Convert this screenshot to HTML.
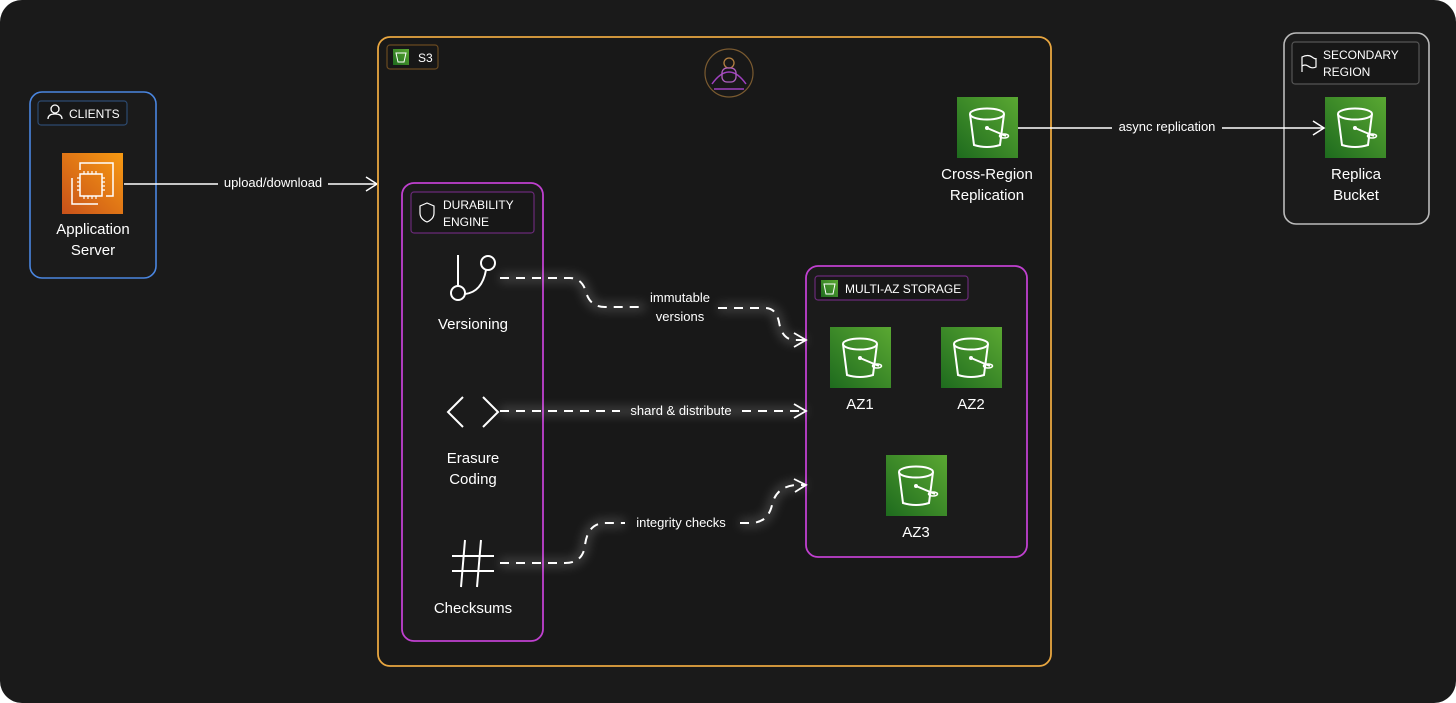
<!DOCTYPE html>
<html><head><meta charset="utf-8"><style>
html,body{margin:0;padding:0;background:#fff;}
body{width:1456px;height:703px;overflow:hidden;}
svg{display:block;}
text{font-family:"Liberation Sans",Arial,sans-serif;fill:#fff;}
</style></head><body>
<svg width="1456" height="703" viewBox="0 0 1456 703" xmlns="http://www.w3.org/2000/svg">
<defs>
<linearGradient id="g" x1="0" y1="1" x2="1" y2="0"><stop offset="0" stop-color="#1e6b1e"/><stop offset="1" stop-color="#5aa832"/></linearGradient>
<linearGradient id="o" x1="0" y1="1" x2="1" y2="0"><stop offset="0" stop-color="#c8511a"/><stop offset="1" stop-color="#f79a12"/></linearGradient>
<filter id="glow" x="-20%" y="-50%" width="140%" height="200%"><feGaussianBlur stdDeviation="5"/></filter>
<g id="bucket">
<path d="M-17,-13 L-13,18 Q0,22 13,18 L17,-13" fill="none" stroke="#fff" stroke-width="2"/>
<ellipse cx="0" cy="-13" rx="17" ry="5.5" fill="none" stroke="#fff" stroke-width="2"/>
<path d="M0,1 L19,9" stroke="#fff" stroke-width="2"/>
<ellipse cx="17" cy="9" rx="4.5" ry="2" fill="none" stroke="#fff" stroke-width="1.5"/>
<circle cx="0" cy="1" r="2" fill="#fff"/>
</g>
</defs>
<rect x="0" y="0" width="1456" height="703" rx="22" fill="#1a1a1a"/>

<!-- Clients -->
<rect x="30" y="92" width="126" height="186" rx="12" fill="#1b1b1b" stroke="#4a86e0" stroke-width="1.6"/>
<rect x="38" y="101" width="89" height="24" rx="3" fill="#171717" stroke="#2c4a70" stroke-width="1.2"/>
<circle cx="55" cy="109" r="4" fill="none" stroke="#fff" stroke-width="1.3"/>
<path d="M48,119 Q48,114 55,114 Q62,114 62,119" fill="none" stroke="#fff" stroke-width="1.3"/>
<text x="69" y="118" font-size="12">CLIENTS</text>
<rect x="62" y="153" width="61" height="61" fill="url(#o)"/>
<path d="M80,170 L80,163 L113,163 L113,196 L106,196" fill="none" stroke="#fff" stroke-width="1.5"/>
<path d="M72,178 L72,204 L98,204" fill="none" stroke="#fff" stroke-width="1.5"/>
<rect x="80" y="174" width="22" height="22" fill="none" stroke="#fff" stroke-width="1.5"/>
<path d="M84,171 v3 M88,171 v3 M92,171 v3 M96,171 v3 M84,196 v3 M88,196 v3 M92,196 v3 M96,196 v3 M77,178 h3 M77,182 h3 M77,186 h3 M77,190 h3 M102,178 h3 M102,182 h3 M102,186 h3 M102,190 h3" stroke="#fff" stroke-width="1.2"/>
<text x="93" y="234" font-size="15" text-anchor="middle">Application</text>
<text x="93" y="255" font-size="15" text-anchor="middle">Server</text>

<!-- upload arrow -->
<line x1="124" y1="184" x2="377" y2="184" stroke="#fff" stroke-width="1.5"/>
<path d="M366,177 L377,184 L366,191" fill="none" stroke="#fff" stroke-width="1.5"/>
<rect x="218" y="175" width="110" height="16" fill="#1a1a1a"/>
<text x="273" y="187" font-size="13" text-anchor="middle">upload/download</text>

<!-- S3 -->
<rect x="378" y="37" width="673" height="629" rx="12" fill="#181818" stroke="#e8a640" stroke-width="1.8"/>
<rect x="387" y="45" width="51" height="24" rx="3" fill="#171717" stroke="#6a4a20" stroke-width="1.2"/>
<rect x="393" y="49" width="16" height="16" fill="url(#g)"/>
<path d="M396,53 L398,62 L404,62 L406,53 Z" fill="none" stroke="#fff" stroke-width="1"/>
<text x="418" y="62" font-size="12">S3</text>
<circle cx="729" cy="73" r="24" fill="none" stroke="#7a5a30" stroke-width="1.2"/>
<path d="M712,84 Q729,60 746,84" fill="none" stroke="#a040c0" stroke-width="1.5"/>
<circle cx="729" cy="63" r="5" fill="none" stroke="#b48040" stroke-width="1.3"/>
<rect x="722" y="68" width="14" height="14" rx="5" fill="none" stroke="#b060c0" stroke-width="1.3"/>
<path d="M714,89 L744,89" stroke="#a040c0" stroke-width="1.5"/>

<!-- CRR -->
<rect x="957" y="97" width="61" height="61" fill="url(#g)"/>
<use href="#bucket" x="987" y="127"/>
<text x="987" y="179" font-size="15" text-anchor="middle">Cross-Region</text>
<text x="987" y="200" font-size="15" text-anchor="middle">Replication</text>

<!-- Secondary region -->
<rect x="1284" y="33" width="145" height="191" rx="12" fill="#1b1b1b" stroke="#bbbbbb" stroke-width="1.6"/>
<rect x="1292" y="42" width="127" height="42" rx="3" fill="#171717" stroke="#555" stroke-width="1.2"/>
<path d="M1302,72 L1302,57 Q1308,54 1312,57 Q1316,60 1316,58 L1316,67 Q1312,69 1308,66 Q1305,64 1302,66" fill="none" stroke="#fff" stroke-width="1.2"/>
<text x="1323" y="59" font-size="12">SECONDARY</text>
<text x="1323" y="76" font-size="12">REGION</text>
<rect x="1325" y="97" width="61" height="61" fill="url(#g)"/>
<use href="#bucket" x="1355" y="127"/>
<text x="1356" y="179" font-size="15" text-anchor="middle">Replica</text>
<text x="1356" y="200" font-size="15" text-anchor="middle">Bucket</text>

<!-- async arrow -->
<line x1="1018" y1="128" x2="1324" y2="128" stroke="#fff" stroke-width="1.5"/>
<path d="M1313,121 L1324,128 L1313,135" fill="none" stroke="#fff" stroke-width="1.5"/>
<rect x="1112" y="119" width="110" height="16" fill="#1a1a1a"/>
<text x="1167" y="131" font-size="13" text-anchor="middle">async replication</text>

<!-- Durability -->
<rect x="402" y="183" width="141" height="458" rx="12" fill="#1b1b1b" stroke="#c040d0" stroke-width="1.8"/>
<rect x="411" y="192" width="123" height="41" rx="3" fill="#171717" stroke="#6a2a78" stroke-width="1.2"/>
<path d="M420,206 L427,203 L434,206 L434,213 Q434,219 427,222 Q420,219 420,213 Z" fill="none" stroke="#fff" stroke-width="1.2"/>
<text x="443" y="209" font-size="12">DURABILITY</text>
<text x="443" y="226" font-size="12">ENGINE</text>
<!-- versioning icon -->
<line x1="458" y1="255" x2="458" y2="286" stroke="#fff" stroke-width="2"/>
<circle cx="458" cy="293" r="7" fill="none" stroke="#fff" stroke-width="2"/>
<circle cx="488" cy="263" r="7" fill="none" stroke="#fff" stroke-width="2"/>
<path d="M486,270 Q482,292 465,294" fill="none" stroke="#fff" stroke-width="2"/>
<text x="473" y="329" font-size="15" text-anchor="middle">Versioning</text>
<!-- erasure -->
<path d="M463,397 L448,412 L463,427 M483,397 L498,412 L483,427" fill="none" stroke="#fff" stroke-width="2"/>
<text x="473" y="463" font-size="15" text-anchor="middle">Erasure</text>
<text x="473" y="484" font-size="15" text-anchor="middle">Coding</text>
<!-- checksums -->
<path d="M465,540 L461,587 M481,540 L477,587 M452,556 L494,556 M452,571 L494,571" fill="none" stroke="#fff" stroke-width="2"/>
<text x="473" y="613" font-size="15" text-anchor="middle">Checksums</text>

<!-- Multi-AZ -->
<rect x="806" y="266" width="221" height="291" rx="12" fill="#1b1b1b" stroke="#c040d0" stroke-width="1.8"/>
<rect x="815" y="276" width="153" height="24" rx="3" fill="#171717" stroke="#6a2a78" stroke-width="1.2"/>
<rect x="821" y="280" width="17" height="17" fill="url(#g)"/>
<path d="M824,284 L826,294 L833,294 L835,284 Z" fill="none" stroke="#fff" stroke-width="1"/>
<text x="845" y="293" font-size="12">MULTI-AZ STORAGE</text>
<rect x="830" y="327" width="61" height="61" fill="url(#g)"/>
<use href="#bucket" x="860" y="357"/>
<text x="860" y="409" font-size="15" text-anchor="middle">AZ1</text>
<rect x="941" y="327" width="61" height="61" fill="url(#g)"/>
<use href="#bucket" x="971" y="357"/>
<text x="971" y="409" font-size="15" text-anchor="middle">AZ2</text>
<rect x="886" y="455" width="61" height="61" fill="url(#g)"/>
<use href="#bucket" x="916" y="485"/>
<text x="916" y="537" font-size="15" text-anchor="middle">AZ3</text>

<!-- glowing dashed connectors -->
<g fill="none" stroke="#fff" stroke-width="8" opacity="0.18" filter="url(#glow)">
<path d="M500,278 L570,278 Q582,278 586,292 Q590,307 605,307 L645,307 M718,308 L765,308 Q776,308 779,322 Q782,340 795,340 L806,340"/>
<path d="M500,411 L806,411"/>
<path d="M500,563 L565,563 Q583,563 585,545 Q588,523 605,523 L625,523 M740,523 L750,523 Q768,523 772,505 Q776,487 795,485 L806,485"/>
</g>
<g fill="none" stroke="#fff" stroke-width="2" stroke-dasharray="9 7">
<path d="M500,278 L570,278 Q582,278 586,292 Q590,307 605,307 L645,307"/>
<path d="M718,308 L765,308 Q776,308 779,322 Q782,340 795,340 L806,340"/>
<path d="M500,411 L620,411"/>
<path d="M742,411 L806,411"/>
<path d="M500,563 L565,563 Q583,563 585,545 Q588,523 605,523 L625,523"/>
<path d="M740,523 L750,523 Q768,523 772,505 Q776,487 795,485 L806,485"/>
</g>
<g fill="none" stroke="#fff" stroke-width="1.8">
<path d="M794,333 L806,340 L794,347"/>
<path d="M794,404 L806,411 L794,418"/>
<path d="M794,479 L806,485 L795,492"/>
</g>
<text x="680" y="302" font-size="13" text-anchor="middle">immutable</text>
<text x="680" y="321" font-size="13" text-anchor="middle">versions</text>
<text x="681" y="415" font-size="13" text-anchor="middle">shard &amp; distribute</text>
<text x="681" y="527" font-size="13" text-anchor="middle">integrity checks</text>
</svg>
</body></html>
